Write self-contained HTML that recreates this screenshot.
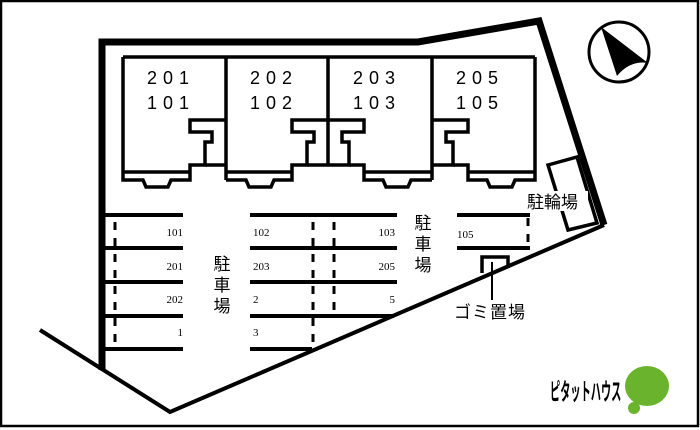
<!DOCTYPE html>
<html><head><meta charset="utf-8"><style>
html,body{margin:0;padding:0;background:#fff}
svg{display:block}
.n{font-family:"Liberation Serif",serif;font-size:11px}
.u{font-family:"Liberation Sans",sans-serif;font-size:18px;letter-spacing:6px}
.j{font-family:"Liberation Sans","Noto Sans CJK JP",sans-serif;font-size:17px}
</style></head><body>
<svg width="700" height="430" viewBox="0 0 700 430" xmlns="http://www.w3.org/2000/svg">
<rect x="1" y="1" width="697" height="425" fill="#fff" stroke="#000" stroke-width="2.5"/>
<polyline points="102,370 102,42 418,42 539,21 604,225" fill="none" stroke="#000" stroke-width="7"/>
<polyline points="604,225 170,412 40,330" fill="none" stroke="#000" stroke-width="4"/>
<g fill="none" stroke="#000" stroke-width="3.5" stroke-linejoin="miter">
<path d="M123,57 L123,180 L143,180 L146,187 L168,187 L171,180 L190,180 L190,165 L205,165 L205,142 L212,142 L212,132 L190,132 L190,120 L226,120"/>
<path d="M123,172 L190,172"/>
<path d="M205,165 L226,165"/>
<path d="M226,57 L226,180"/>
<path d="M226,180 L246,180 L249,187 L271,187 L274,180 L292,180 L292,165 L307,165 L307,142 L314,142 L314,132 L292,132 L292,120 L328,120"/>
<path d="M226,172 L292,172"/>
<path d="M307,165 L328,165"/>
<path d="M328,57 L328,165"/>
<path d="M328,165 L349,165 L349,142 L342,142 L342,132 L364,132 L364,120 L328,120"/>
<path d="M349,165 L364,165 L364,180 L383,180 L386,187 L408,187 L411,180 L432,180"/>
<path d="M364,172 L432,172"/>
<path d="M432,57 L432,180"/>
<path d="M432,165 L453,165 L453,142 L446,142 L446,132 L468,132 L468,120 L432,120"/>
<path d="M453,165 L468,165 L468,180 L487,180 L490,187 L512,187 L515,180 L535,180 L535,57"/>
<path d="M468,172 L535,172"/>
<path d="M123,57 L535,57"/>
</g>
<text class="u" x="147" y="84">201</text><text class="u" x="147" y="109">101</text>
<text class="u" x="250" y="84">202</text><text class="u" x="250" y="109">102</text>
<text class="u" x="353" y="84">203</text><text class="u" x="353" y="109">103</text>
<text class="u" x="456" y="84">205</text><text class="u" x="456" y="109">105</text>
<g stroke="#000" stroke-width="4">
<line x1="104" y1="215" x2="183" y2="215"/><line x1="104" y1="248" x2="183" y2="248"/>
<line x1="104" y1="282" x2="183" y2="282"/><line x1="104" y1="316" x2="183" y2="316"/>
<line x1="104" y1="349" x2="183" y2="349"/>
<line x1="250" y1="215" x2="397" y2="215"/><line x1="250" y1="248" x2="397" y2="248"/>
<line x1="250" y1="282" x2="397" y2="282"/><line x1="250" y1="316" x2="394" y2="316"/>
<line x1="250" y1="349" x2="312" y2="349"/>
<line x1="457" y1="215" x2="530" y2="215"/><line x1="457" y1="248" x2="530" y2="248"/>
</g>
<g stroke="#000" stroke-width="3" stroke-dasharray="8,8">
<line x1="115" y1="222" x2="115" y2="345"/>
<line x1="313" y1="222" x2="313" y2="345"/>
<line x1="334" y1="222" x2="334" y2="314"/>
<line x1="528" y1="218" x2="528" y2="246"/>
</g>
<g class="n">
<text x="183" y="236" text-anchor="end">101</text><text x="183" y="270" text-anchor="end">201</text>
<text x="183" y="303" text-anchor="end">202</text><text x="183" y="336" text-anchor="end">1</text>
<text x="253" y="236">102</text><text x="253" y="270">203</text>
<text x="253" y="303">2</text><text x="253" y="336">3</text>
<text x="395" y="236" text-anchor="end">103</text><text x="395" y="270" text-anchor="end">205</text>
<text x="395" y="303" text-anchor="end">5</text>
<text x="457" y="238">105</text>
</g>
<g class="j" text-anchor="middle">
<text x="222" y="270">駐</text><text x="222" y="291">車</text><text x="222" y="312">場</text>
<text x="423" y="229">駐</text><text x="423" y="250">車</text><text x="423" y="271">場</text>
</g>
<polygon points="548,165 577,157 597,223 568,230" fill="none" stroke="#000" stroke-width="3.5"/>
<rect x="526" y="191" width="62" height="20" fill="#fff"/>
<text class="j" x="527" y="208">駐輪場</text>
<polyline points="482,273 482,257 508,257 508,268" fill="none" stroke="#000" stroke-width="3.5"/>
<line x1="492" y1="262" x2="492" y2="300" stroke="#000" stroke-width="2"/>
<text class="j" x="454" y="318" letter-spacing="1">ゴミ置場</text>
<circle cx="619" cy="52" r="30" fill="none" stroke="#000" stroke-width="3"/>
<path d="M601,27 L648,63 Q630,60 617,76 Z" fill="#000"/>
<text x="0" y="0" font-family="Liberation Sans,'Noto Sans CJK JP',sans-serif" font-size="17" font-weight="bold" transform="translate(550,400) scale(0.6,1.4)">ピタットハウス</text>
<ellipse cx="647" cy="386" rx="22" ry="20" fill="#6ab42d"/>
<circle cx="634" cy="408" r="6" fill="#6ab42d"/>
</svg>
</body></html>
